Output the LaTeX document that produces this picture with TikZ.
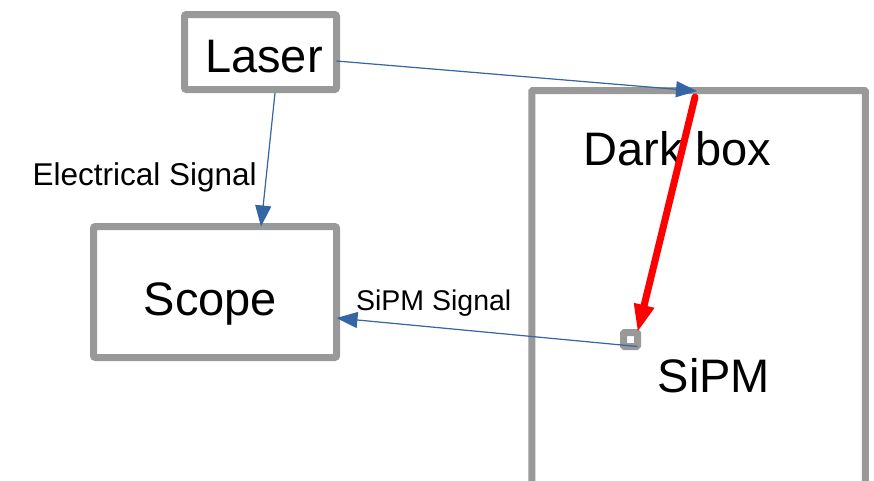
\documentclass[tikz,border=0pt]{standalone}
\usepackage{fontspec}
\setmainfont{Liberation Sans}
\usetikzlibrary{arrows.meta}
\definecolor{boxgray}{RGB}{153,153,153}
\definecolor{sigblue}{RGB}{52,101,164}

\begin{document}
\begin{tikzpicture}[x=1pt, y=-1pt,
frame/.style={draw=boxgray, line width=7pt, rounded corners=2pt, inner sep=0pt, outer sep=0pt},
title/.style={inner sep=0pt, anchor=base, font=\fontsize{47}{56}\selectfont},
tag/.style={inner sep=0pt, font=\fontsize{#1}{36}\selectfont},
signal/.style={-{Triangle[length=21pt, width=16pt]}, draw=sigblue, fill=sigblue, line width=1.2pt},
beam/.style={-{Triangle[length=28pt, width=19pt]}, draw=red, fill=red, line width=7pt, line cap=round}]
\useasboundingbox (0,0) rectangle (874,480);
\clip (0,0) rectangle (874,480);
\node[frame, minimum width=152pt, minimum height=75pt] (laser) at (260.5,52) {};
\node[title] (laserlabel) at (264,72) {Laser};
\node[frame, minimum width=243pt, minimum height=131pt] (scope) at (215,292) {};
\node[title] (scopelabel) at (210.5,315) {Scope};
\node[frame, rounded corners=1pt, anchor=north west, minimum width=333.6pt, minimum height=500pt] (darkbox) at (531.8,90.5) {};
\node[title] (darklabel) at (677.5,165) {Dark box};
\node[frame, rounded corners=1pt, minimum size=14pt] (sipm) at (630.5,339.5) {};
\node[title] (sipmlabel) at (714,392) {SiPM};
\coordinate (entry) at (697,91);
\coordinate (beamstart) at (695,97);
\draw[signal] ([yshift=-9pt]laser.east) -- (entry);
\draw[signal] ([xshift=14.5pt, yshift=-3.5pt]laser.south) -- node[tag=31.5, pos=0.69, anchor=base east, xshift=-8pt] {Electrical Signal} ([xshift=46pt]scope.north);
\draw[signal] (sipm.south east) -- node[tag=28.5, pos=0.677, anchor=base, yshift=17pt] {SiPM Signal} ([yshift=-26pt]scope.east);
\draw[beam] (beamstart) -- (sipm.north east);
\end{tikzpicture}
\end{document}
